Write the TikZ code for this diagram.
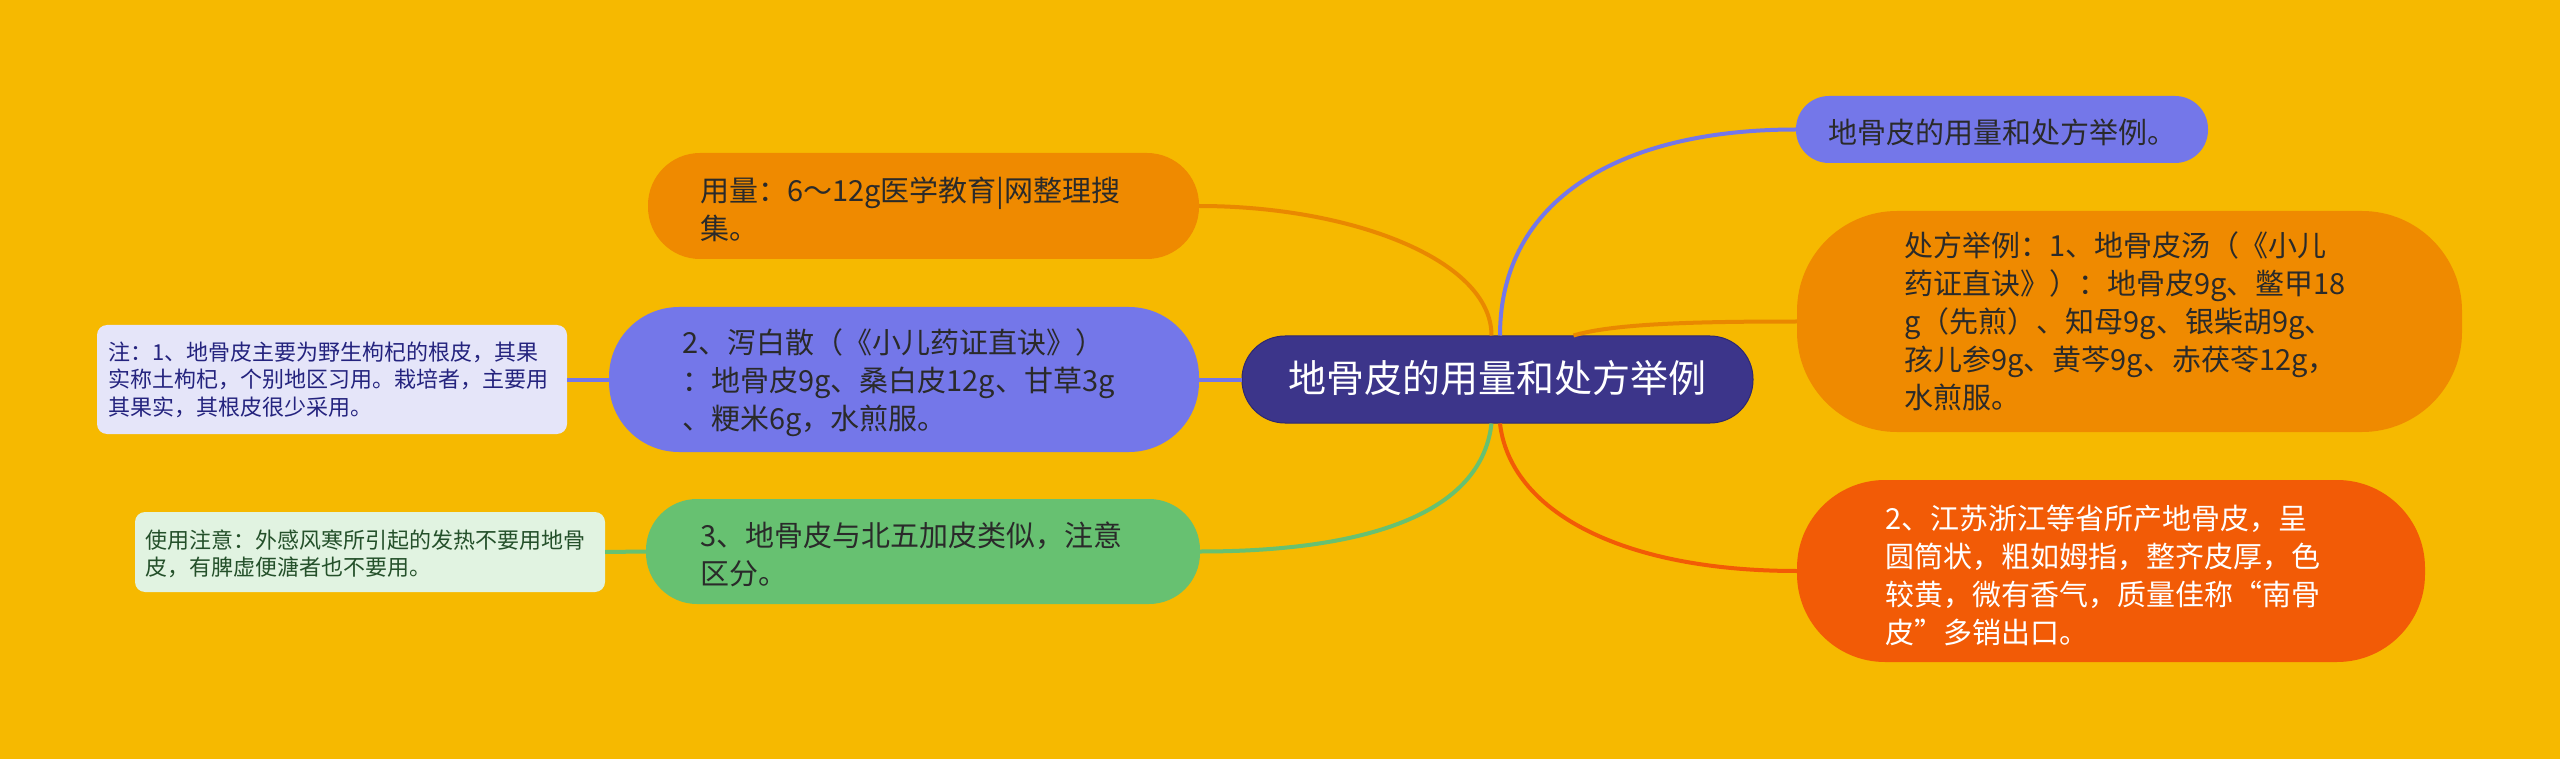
\documentclass[tikz,border=0pt]{standalone}
\usepackage{fontspec}
\setmainfont{Noto Sans CJK SC}
\usetikzlibrary{calc}
\definecolor{bg}{HTML}{F6B900}
\definecolor{cOr}{HTML}{EF8A00}
\definecolor{cOrL}{HTML}{E98800}
\definecolor{cPe}{HTML}{7477E9}
\definecolor{cRe}{HTML}{F25B06}
\definecolor{cGr}{HTML}{67C171}
\definecolor{cCe}{HTML}{3C358A}
\definecolor{cCeB}{HTML}{2E2870}
\definecolor{cN1}{HTML}{E5E5F9}
\definecolor{cN1t}{HTML}{24237E}
\definecolor{cN2}{HTML}{E1F3E1}
\definecolor{cN2t}{HTML}{24502A}
\definecolor{cTx}{HTML}{2A2A2A}
\begin{document}
\begin{tikzpicture}[x=1pt,y=-1pt,
  box/.style={rectangle,inner sep=0pt,draw=none},
  txt/.style={inner sep=0pt,align=left,anchor=west,text=cTx,font=\fontsize{29}{38}\selectfont},
  ntxt/.style={inner sep=0pt,align=left,anchor=west,font=\fontsize{22}{27.5}\selectfont},
  conn/.style={line width=4pt}]
\fill[bg] (0,0) rectangle (2560,759);
\useasboundingbox (0,0) rectangle (2560,759);

% boxes
\node[box,fill=cCe,draw=cCeB,line width=1pt,minimum width=511pt,minimum height=87pt,rounded corners=43pt] (ce) at (1497.5,379.5) {};
\node[box,fill=cPe,minimum width=412pt,minimum height=67pt,rounded corners=33pt] (rt) at (2002,129.5) {};
\node[box,fill=cOr,minimum width=665pt,minimum height=221pt,rounded corners=100pt] (rm) at (2129.5,321.5) {};
\node[box,fill=cRe,minimum width=628pt,minimum height=182pt,rounded corners=88pt] (rb) at (2111,571) {};
\node[box,fill=cOr,minimum width=551pt,minimum height=106pt,rounded corners=52pt] (lt) at (923.5,206) {};
\node[box,fill=cPe,minimum width=590pt,minimum height=145pt,rounded corners=70pt] (lm) at (904,379.5) {};
\node[box,fill=cGr,minimum width=554pt,minimum height=105pt,rounded corners=51pt] (lb) at (923,551.5) {};
\node[box,fill=cN1,minimum width=470pt,minimum height=109pt,rounded corners=10pt] (n1) at (332,379.5) {};
\node[box,fill=cN2,minimum width=470pt,minimum height=80pt,rounded corners=10pt] (n2) at (370,552) {};

% connectors
\draw[conn,cOrL] ([xshift=-6pt]ce.north) .. controls +(0,-76) and +(151,0) .. (lt.east);
\draw[conn,cPe] ([xshift=2.5pt]ce.north) .. controls +(0,-136) and +(-176,0) .. (rt.west);
\draw[conn,cOrL] ([xshift=76pt]ce.north) .. controls +(40,-12) and +(-100,0) .. (rm.west);
\draw[conn,cRe] ([xshift=2.5pt]ce.south) .. controls +(10,87) and +(-177,0) .. (rb.west);
\draw[conn,cGr] ([xshift=-6pt]ce.south) .. controls +(-11,97) and +(150,0) .. (lb.east);
\draw[conn,cPe] (ce.west) -- (lm.east);
\draw[conn,cPe] (lm.west) -- (n1.east);
\draw[conn,cGr] (lb.west) -- (n2.east);

% texts
\node[inner sep=0pt,text=white,font=\fontsize{38}{46}\selectfont] (t-ce) at (1497.5,378) {地骨皮的用量和处方举例};
\node[txt] (t-rt) at (1828,132) {地骨皮的用量和处方举例。};
\node[txt] (t-rm) at (1904,321.5) {处方举例：1、地骨皮汤（《小儿\\药证直诀》）：地骨皮9g、鳖甲18\\g（先煎）、知母9g、银柴胡9g、\\孩儿参9g、黄芩9g、赤茯苓12g，\\水煎服。};
\node[txt,text=white] (t-rb) at (1885,575) {2、江苏浙江等省所产地骨皮，呈\\圆筒状，粗如姆指，整齐皮厚，色\\较黄，微有香气，质量佳称“南骨\\皮”多销出口。};
\node[txt] (t-lt) at (700,209) {用量：6～12g医学教育|网整理搜\\集。};
\node[txt] (t-lm) at (682,382.5) {2、泻白散（《小儿药证直诀》）\\：地骨皮9g、桑白皮12g、甘草3g\\、粳米6g，水煎服。};
\node[txt] (t-lb) at (700,554) {3、地骨皮与北五加皮类似，注意\\区分。};
\node[ntxt,text=cN1t] (t-n1) at (108,379.5) {注：1、地骨皮主要为野生枸杞的根皮，其果\\实称土枸杞，个别地区习用。栽培者，主要用\\其果实，其根皮很少采用。};
\node[ntxt,text=cN2t] (t-n2) at (145,554) {使用注意：外感风寒所引起的发热不要用地骨\\皮，有脾虚便溏者也不要用。};
\end{tikzpicture}
\end{document}
